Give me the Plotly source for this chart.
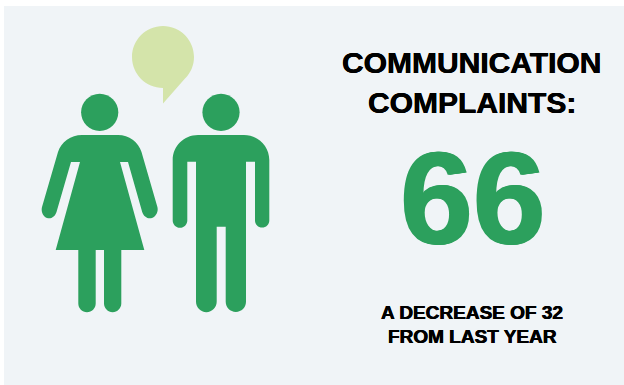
import plotly.graph_objects as go

# Headline content
headline_lines = ["COMMUNICATION", "COMPLAINTS:"]
complaints_total = 66
yearly_change = 32
footer_lines = [f"A DECREASE OF {yearly_change}", "FROM LAST YEAR"]

GREEN = "#2ca05d"
PALE = "#d4e4aa"
PANEL = "#f0f4f7"
K = 0.5523


def circle(cx, cy, r):
    c = K * r
    return (f"M{cx - r},{cy} C{cx - r},{cy - c} {cx - c},{cy - r} {cx},{cy - r} "
            f"C{cx + c},{cy - r} {cx + r},{cy - c} {cx + r},{cy} "
            f"C{cx + r},{cy + c} {cx + c},{cy + r} {cx},{cy + r} "
            f"C{cx - c},{cy + r} {cx - r},{cy + c} {cx - r},{cy} Z")


def cap(x0, x1, y):
    # rounded lower end of a limb, running right to left
    r = (x1 - x0) / 2
    c = K * r
    return (f"C{x1},{y + c} {x1 - r + c},{y + r} {x1 - r},{y + r} "
            f"C{x1 - r - c},{y + r} {x0},{y + c} {x0},{y} ")


bubble = ("M163,26 C180.1,26 194,39.9 194,57 C194,65.5 190.6,73 185,78.6 "
          "L163,103.5 L163,88 C145.9,88 132,74.1 132,57 C132,39.9 145.9,26 163,26 Z")

woman = ("M82,135 L118,135 C129,135 138.5,142 141.5,152 L157.4,207 "
         + "C158.6,211.5 156,216.6 152,218 C148,219.4 143.5,216.5 142.2,212 "
         + "L128,162 L120,162 L144.3,250 L121.3,250 L121.3,303.6 "
         + cap(104, 121.3, 303.6)
         + "L104,250 L95.7,250 L95.7,303.6 "
         + cap(78.3, 95.7, 303.6)
         + "L78.3,250 L55.7,250 L80,162 L71,162 L56.5,212 "
         + "C55.2,216.5 51,219.4 47,218 C43,216.6 40.8,211.5 42,207 L58,152 "
         + "C61,142 71,135 82,135 Z")

man = ("M198,135 L244,135 C258,135 269.3,146 269.3,160 L269.3,220.4 "
       + cap(255, 269.3, 220.4)
       + "L255,161.7 L246,161.7 L246,301.8 "
       + cap(225.7, 246, 301.8)
       + "L225.7,226.7 L216.7,226.7 L216.7,301.8 "
       + cap(196, 216.7, 301.8)
       + "L196,161.7 L187.3,161.7 L187.3,220.4 "
       + cap(172.7, 187.3, 220.4)
       + "L172.7,160 C172.7,146 184,135 198,135 Z")


def solid(path, colour):
    return dict(type="path", path=path, xref="x", yref="y",
                fillcolor=colour, line=dict(width=0), layer="above")


shapes = [
    dict(type="rect", xref="x", yref="y", x0=4, x1=624, y0=6, y1=385,
         fillcolor=PANEL, line=dict(width=0), layer="below"),
    solid(bubble, PALE),
    solid(circle(99.7, 112.3, 18.6), GREEN),
    solid(circle(221, 112.3, 18.6), GREEN),
    solid(woman, GREEN),
    solid(man, GREEN),
]


def label(text, y, size, colour="#000000", x=471.5, heft=0.35):
    # a hairline sideways text shadow gives the glyphs a heavier stem
    shadow = f"{heft}px 0 0 {colour}, -{heft}px 0 0 {colour}"
    return dict(x=x, y=y, xref="x", yref="y", text=text, showarrow=False,
                xanchor="center", yanchor="middle",
                font=dict(family="Liberation Sans", size=size, color=colour,
                          weight=700, shadow=shadow))


annotations = [
    label(headline_lines[0], 62, 30),
    label(headline_lines[1], 102, 30),
    label(str(complaints_total), 198, 131, GREEN, x=472.5, heft=1),
    label(footer_lines[0], 312, 19),
    label(footer_lines[1], 336, 19, x=472),
]

fig = go.Figure()
fig.update_layout(
    width=624, height=385, margin=dict(l=0, r=0, t=0, b=0),
    paper_bgcolor="#ffffff", plot_bgcolor="#ffffff", showlegend=False,
    xaxis=dict(range=[0, 624], visible=False, fixedrange=True),
    yaxis=dict(range=[385, 0], visible=False, fixedrange=True),
    shapes=shapes, annotations=annotations,
)
fig.write_html("out.html", config=dict(displayModeBar=False))
